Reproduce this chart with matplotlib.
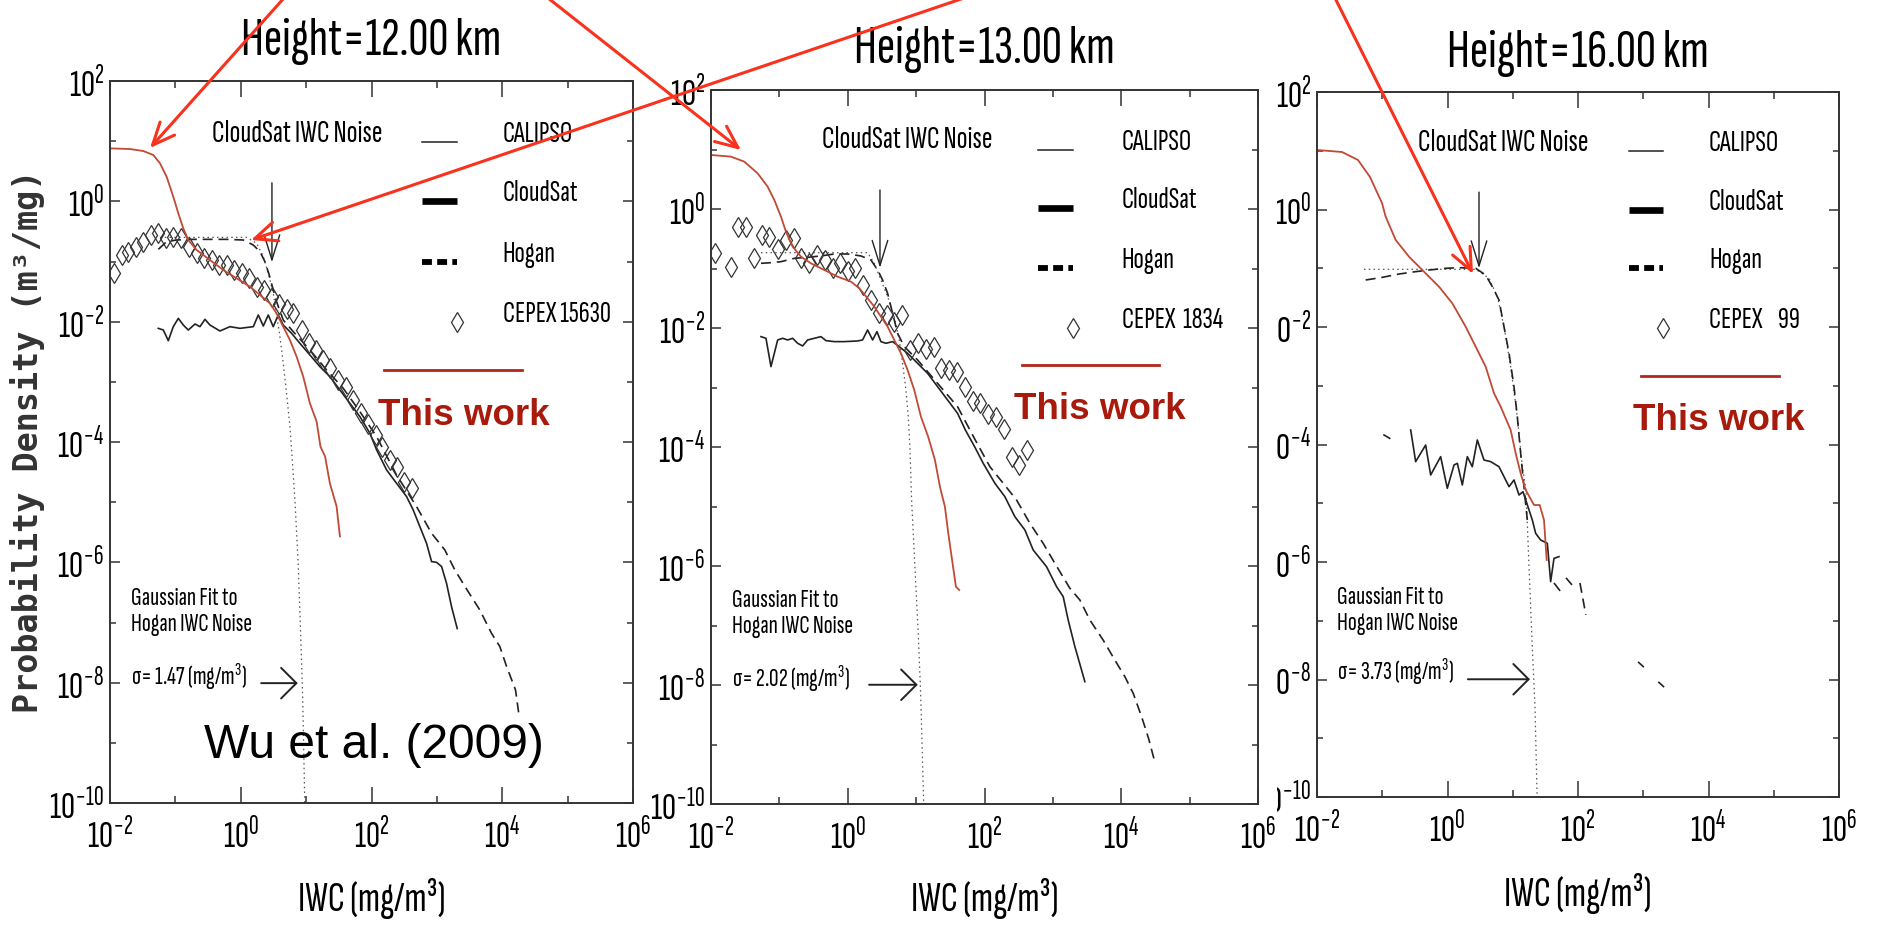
import numpy as np
import matplotlib
matplotlib.use('Agg')
import matplotlib.pyplot as plt
from matplotlib import font_manager
from matplotlib.lines import Line2D
from matplotlib.patches import FancyArrowPatch
from matplotlib.ticker import FixedLocator, FuncFormatter, NullFormatter
from matplotlib.transforms import Bbox, TransformedBbox

# values, stored as log10 exponents

# ---- 12 km ----
h12_red_lx = [-2.0, -1.7, -1.49, -1.337, -1.235, -1.134, -1.032, -0.955, -0.879, -0.802, -0.675, -0.471, -0.267, -0.063,
              0.141, 0.294, 0.446, 0.548, 0.650, 0.752, 0.854, 0.956, 1.058, 1.16, 1.22, 1.29, 1.364, 1.466, 1.517]
h12_red_ly = [0.88, 0.87, 0.836, 0.77, 0.631, 0.41, 0.077, -0.20, -0.449, -0.643, -0.809, -0.975, -1.141, -1.28,
              -1.419, -1.557, -1.696, -1.862, -2.083, -2.305, -2.58, -2.914, -3.357, -3.66, -4.08, -4.24, -4.69, -5.07, -5.57]
h12_cal_lx = [-1.261, -1.184, -1.108, -1.032, -0.955, -0.879, -0.802, -0.700, -0.624, -0.547, -0.471, -0.318, -0.165, -0.012,
              0.192, 0.268, 0.345, 0.421, 0.497, 0.574, 0.650, 0.778, 0.905, 1.058, 1.211, 1.364, 1.517, 1.670, 1.823, 1.976,
              2.078, 2.231, 2.384, 2.537, 2.638, 2.740, 2.842, 2.919, 2.995, 3.072, 3.148, 3.225, 3.311]
h12_cal_ly = [-2.111, -2.139, -2.316, -2.083, -1.945, -2.056, -2.139, -2.039, -2.083, -1.961, -2.056, -2.155, -2.083, -2.111,
              -2.083, -1.889, -2.072, -1.889, -2.083, -1.889, -2.056, -2.194, -2.36, -2.554, -2.748, -2.914, -3.136, -3.357,
              -3.579, -3.856, -4.13, -4.465, -4.687, -4.908, -5.13, -5.407, -5.684, -5.988, -6.0, -6.07, -6.35, -6.74, -7.10]
h12_hog_lx = [-1.261, -1.134, -0.981, -0.726, -0.471, -0.216, 0.039, 0.192, 0.294, 0.370, 0.436, 0.497, 0.548, 0.650, 0.803,
              1.058, 1.313, 1.568, 1.823, 2.078, 2.384, 2.69, 2.919, 3.122, 3.275, 3.479, 3.657, 3.836, 3.963, 4.066, 4.203, 4.26]
h12_hog_ly = [-0.798, -0.67, -0.643, -0.632, -0.632, -0.632, -0.643, -0.726, -0.837, -1.003, -1.225, -1.474, -1.668, -1.973,
              -2.166, -2.471, -2.803, -3.108, -3.496, -3.911, -4.55, -5.075, -5.517, -5.795, -6.127, -6.487, -6.792, -7.18,
              -7.40, -7.73, -8.12, -8.57]
h12_gau_lx = [-1.235, 0.090, 0.243, 0.345, 0.421, 0.497, 0.548, 0.599, 0.650, 0.701, 0.752, 0.778, 0.829, 0.880, 0.916, 0.946, 0.985]
h12_gau_ly = [-0.599, -0.599, -0.698, -0.92, -1.197, -1.529, -1.889, -2.25, -2.693, -3.19, -3.745, -4.133, -4.964, -6.07,
              -7.18, -8.18, -10.3]
h12_cep_lx = [-1.939, -1.822, -1.720, -1.602, -1.490, -1.373, -1.261, -1.144, -1.032, -0.914, -0.787, -0.675, -0.563, -0.445,
              -0.328, -0.216, -0.099, 0.013, 0.130, 0.243, 0.360, 0.472, 0.589, 0.701, 0.803, 0.931, 1.048, 1.150, 1.262,
              1.364, 1.491, 1.609, 1.721, 1.833, 1.950, 2.062, 2.154, 2.281, 2.384, 2.495, 2.623]
h12_cep_ly = [-1.197, -0.892, -0.837, -0.754, -0.67, -0.56, -0.532, -0.615, -0.599, -0.615, -0.754, -0.864, -0.948, -0.975,
              -1.058, -1.058, -1.141, -1.197, -1.28, -1.419, -1.474, -1.585, -1.707, -1.795, -1.862, -2.139, -2.349, -2.471,
              -2.637, -2.776, -2.97, -3.091, -3.302, -3.524, -3.701, -3.884, -4.077, -4.299, -4.41, -4.659, -4.77]

# ---- 13 km ----
h13_red_lx = [-2.0, -1.708, -1.513, -1.318, -1.172, -1.074, -0.977, -0.904, -0.806, -0.684, -0.538, -0.343, -0.148, 0.047,
              0.169, 0.290, 0.388, 0.485, 0.583, 0.680, 0.778, 0.875, 0.973, 1.07, 1.177, 1.275, 1.348, 1.421, 1.47, 1.519,
              1.582, 1.63]
h13_red_ly = [0.908, 0.880, 0.796, 0.600, 0.376, 0.152, -0.128, -0.381, -0.633, -0.801, -0.913, -1.025, -1.137, -1.221,
              -1.333, -1.501, -1.641, -1.809, -1.977, -2.201, -2.425, -2.705, -3.042, -3.49, -3.83, -4.218, -4.667, -5.003,
              -5.45, -5.843, -6.347, -6.403]
h13_cal_lx = [-1.269, -1.196, -1.123, -1.025, -0.952, -0.879, -0.806, -0.733, -0.660, -0.587, -0.489, -0.392, -0.319, -0.197,
              -0.051, 0.144, 0.217, 0.290, 0.364, 0.427, 0.485, 0.558, 0.656, 0.753, 0.875, 1.021, 1.168, 1.314, 1.460, 1.606,
              1.72, 1.855, 1.981, 2.152, 2.298, 2.444, 2.591, 2.712, 2.907, 3.054, 3.151, 3.224, 3.322, 3.468]
h13_cal_ly = [-2.145, -2.173, -2.649, -2.201, -2.173, -2.201, -2.173, -2.257, -2.302, -2.201, -2.173, -2.145, -2.212, -2.229,
              -2.229, -2.218, -2.201, -2.033, -2.201, -2.061, -2.229, -2.257, -2.229, -2.313, -2.425, -2.593, -2.762, -2.986,
              -3.21, -3.434, -3.714, -3.994, -4.274, -4.61, -4.835, -5.171, -5.395, -5.731, -6.011, -6.347, -6.515, -6.908,
              -7.356, -7.944]
h13_hog_lx = [-1.269, -1.123, -0.977, -0.782, -0.587, -0.392, -0.197, -0.002, 0.193, 0.339, 0.437, 0.510, 0.583, 0.656, 0.729,
              0.827, 1.021, 1.314, 1.606, 1.850, 2.079, 2.274, 2.469, 2.664, 2.858, 3.029, 3.249, 3.395, 3.541, 3.735, 3.906,
              4.053, 4.175, 4.30, 4.40, 4.49]
h13_hog_ly = [-0.913, -0.902, -0.885, -0.829, -0.812, -0.789, -0.756, -0.756, -0.789, -0.857, -1.025, -1.193, -1.417, -1.753,
              -2.089, -2.313, -2.537, -2.93, -3.322, -3.85, -4.331, -4.61, -4.891, -5.283, -5.619, -5.955, -6.375, -6.571,
              -6.908, -7.244, -7.580, -7.86, -8.14, -8.54, -8.9, -9.29]
h13_gau_lx = [-1.269, 0.290, 0.388, 0.485, 0.583, 0.680, 0.753, 0.802, 0.851, 0.885, 0.909, 0.934, 0.982, 1.031, 1.066, 1.118]
h13_gau_ly = [-0.734, -0.734, -0.913, -1.193, -1.473, -1.809, -2.201, -2.593, -3.042, -3.49, -3.994, -4.891, -6.011, -7.131,
              -8.14, -10.3]
h13_cep_lx = [-1.942, -1.708, -1.600, -1.488, -1.366, -1.259, -1.147, -1.025, -0.904, -0.791, -0.684, -0.562, -0.450, -0.333,
              -0.221, -0.109, -0.002, 0.105, 0.222, 0.339, 0.451, 0.568, 0.680, 0.797, 0.909, 1.021, 1.143, 1.255, 1.363,
              1.484, 1.597, 1.713, 1.826, 1.938, 2.055, 2.167, 2.279, 2.396, 2.508, 2.625]
h13_cep_ly = [-0.733, -0.969, -0.297, -0.297, -0.829, -0.437, -0.476, -0.678, -0.521, -0.493, -0.829, -0.913, -0.773, -0.857,
              -0.997, -0.913, -1.036, -0.997, -1.277, -1.529, -1.753, -1.781, -1.893, -1.781, -2.369, -2.257, -2.358, -2.313,
              -2.677, -2.705, -2.733, -2.986, -3.221, -3.266, -3.445, -3.501, -3.703, -4.163, -4.303, -4.05]

# ---- 16 km ----
h16_red_lx = [-2.0, -1.617, -1.372, -1.188, -1.004, -0.948, -0.794, -0.59, -0.386, -0.13, 0.074, 0.278, 0.432, 0.585, 0.713,
              0.815, 0.968, 1.045, 1.121, 1.198, 1.326, 1.413, 1.479, 1.52]
h16_red_ly = [1.013, 0.979, 0.843, 0.553, 0.111, -0.122, -0.519, -0.803, -1.03, -1.314, -1.597, -1.994, -2.335, -2.675,
              -3.129, -3.356, -3.753, -4.15, -4.49, -4.774, -5.03, -5.03, -5.285, -5.966]
h16_cal_lx = [-0.973, -0.886, np.nan, -0.564, -0.488, -0.335, -0.258, -0.105, -0.003, 0.1, 0.151, 0.227, 0.304, 0.38, 0.457,
              0.559, 0.662, 0.789, 0.943, 1.019, 1.096, 1.157, 1.3, 1.351, 1.428, 1.53, 1.581, 1.632, 1.709]
h16_cal_ly = [-3.838, -3.895, np.nan, -3.753, -4.292, -4.009, -4.519, -4.207, -4.746, -4.349, -4.32, -4.689, -4.207, -4.378,
              -3.923, -4.264, -4.292, -4.378, -4.718, -4.604, -4.86, -4.803, -5.285, -5.512, -5.626, -5.682, -6.335, -5.938,
              -5.909]
h16_hog_lx = [-1.254, -0.999, -0.743, -0.488, -0.284, -0.028, 0.176, 0.432, 0.585, 0.687, 0.789, 0.866, 0.943, 1.019, 1.07,
              1.121, 1.172, 1.223, np.nan, 1.632, 1.739, np.nan, 1.816, 1.908, np.nan, 2.03, 2.12, np.nan, 2.92, 3.01, np.nan,
              3.23, 3.32]
h16_hog_ly = [-1.2, -1.155, -1.098, -1.058, -1.03, -1.001, -0.99, -1.001, -1.115, -1.314, -1.54, -1.994, -2.448, -3.016,
              -3.527, -4.15, -4.718, -5.285, np.nan, -6.357, -6.51, np.nan, -6.27, -6.39, np.nan, -6.357, -6.9, np.nan, -7.70,
              -7.79, np.nan, -8.04, -8.13]
h16_gau_lx = [-1.28, 0.432, 0.636, 0.764, 0.866, 0.968, 1.07, 1.147, 1.203, 1.249, 1.295, 1.341, 1.372, 1.38]
h16_gau_ly = [-1.018, -1.018, -1.171, -1.484, -1.994, -2.675, -3.527, -4.378, -4.774, -6.08, -7.33, -8.47, -9.93, -10.3]
h16_cep_lx = []
h16_cep_ly = []

heights = ['12.00', '13.00', '16.00']
sigmas = ['1.47', '2.02', '3.73']
cepex_labels = ['CEPEX 15630', 'CEPEX  1834', 'CEPEX    99']
legend_names = ['CALIPSO', 'CloudSat', 'Hogan']
noise_x = [3.0, 2.96, 3.04]

# fonts: the figure text is a squeezed Helvetica, so use an extra-condensed grotesque
names = {f.name for f in font_manager.fontManager.ttflist}
NARROW = next((n for n in ['Sofia Sans Extra Condensed', 'Roboto Condensed', 'Liberation Sans'] if n in names),
              'DejaVu Sans')
plt.rcParams['font.family'] = [NARROW, 'DejaVu Sans']
plt.rcParams['mathtext.fontset'] = 'custom'
plt.rcParams['mathtext.rm'] = NARROW
plt.rcParams['mathtext.it'] = NARROW

RED_CURVE = '#c04a36'
RED_TEXT = '#a81a0c'
RED_ARROW = '#f8321c'
INK = '#222222'

W, H = 1877, 925
fig = plt.figure(figsize=(W / 100, H / 100), dpi=100)
fig.patch.set_facecolor('white')

# layout per panel in pixels and axes fractions
panels = [
    dict(box=(110, 81, 633, 803), title_y=1.036, xlab_y=-0.150,
         noise=(0.358, 0.916, 0.859, 0.749), samp=(0.597, 0.663), lab_x=0.751,
         leg_y=(0.916, 0.834, 0.749, 0.666), red_line=(0.524, 0.788, 0.600), work=(0.512, 0.5235),
         gauss=(0.040, 0.274, 0.238, 0.163), sig_arrow=(0.289, 0.359, 0.166)),
    dict(box=(711, 90, 1258, 804), title_y=1.038, xlab_y=-0.150,
         noise=(0.358, 0.919, 0.860, 0.751), samp=(0.598, 0.662), lab_x=0.751,
         leg_y=(0.916, 0.835, 0.751, 0.667), red_line=(0.569, 0.819, 0.615), work=(0.554, 0.539),
         gauss=(0.038, 0.276, 0.239, 0.164), sig_arrow=(0.289, 0.378, 0.167)),
    dict(box=(1317, 92, 1839, 797), title_y=1.035, xlab_y=-0.155,
         noise=(0.356, 0.916, 0.858, 0.750), samp=(0.598, 0.663), lab_x=0.751,
         leg_y=(0.916, 0.833, 0.750, 0.665), red_line=(0.621, 0.885, 0.597), work=(0.605, 0.521),
         gauss=(0.038, 0.274, 0.237, 0.166), sig_arrow=(0.289, 0.408, 0.167)),
]
series = [
    (h12_red_lx, h12_red_ly, h12_cal_lx, h12_cal_ly, h12_hog_lx, h12_hog_ly, h12_gau_lx, h12_gau_ly, h12_cep_lx, h12_cep_ly),
    (h13_red_lx, h13_red_ly, h13_cal_lx, h13_cal_ly, h13_hog_lx, h13_hog_ly, h13_gau_lx, h13_gau_ly, h13_cep_lx, h13_cep_ly),
    (h16_red_lx, h16_red_ly, h16_cal_lx, h16_cal_ly, h16_hog_lx, h16_hog_ly, h16_gau_lx, h16_gau_ly, h16_cep_lx, h16_cep_ly),
]

pow10 = FuncFormatter(lambda v, p: r'$\mathregular{10^{%d}}$' % int(round(np.log10(v))))
axes = []
for i, (cfg, s) in enumerate(zip(panels, series)):
    x0, y0, x1, y1 = cfg['box']
    ax = fig.add_axes([x0 / W, 1 - y1 / H, (x1 - x0) / W, (y1 - y0) / H])
    axes.append(ax)
    red_lx, red_ly, cal_lx, cal_ly, hog_lx, hog_ly, gau_lx, gau_ly, cep_lx, cep_ly = [np.asarray(a, float) for a in s]

    ax.plot(10 ** gau_lx, 10 ** gau_ly, color='#555555', lw=0.9, ls=(0, (1.2, 2.6)))
    ax.plot(10 ** hog_lx, 10 ** hog_ly, color=INK, lw=1.2, ls=(0, (6, 3.5)))
    ax.plot(10 ** cal_lx, 10 ** cal_ly, color=INK, lw=1.2)
    if len(cep_lx):
        ax.plot(10 ** cep_lx, 10 ** cep_ly, ls='none', marker='d', ms=10.5, mfc='none', mec='#333333', mew=0.9)
    ax.plot(10 ** red_lx, 10 ** red_ly, color=RED_CURVE, lw=1.3)

    ax.set_xscale('log')
    ax.set_yscale('log')
    ax.set_xlim(1e-2, 1e6)
    ax.set_ylim(1e-10, 1e2)
    ax.xaxis.set_major_locator(FixedLocator([1e-2, 1e0, 1e2, 1e4, 1e6]))
    ax.xaxis.set_minor_locator(FixedLocator([1e-1, 1e1, 1e3, 1e5]))
    ax.yaxis.set_major_locator(FixedLocator([10.0 ** k for k in range(-10, 3, 2)]))
    ax.yaxis.set_minor_locator(FixedLocator([10.0 ** k for k in range(-9, 2, 2)]))
    ax.xaxis.set_major_formatter(pow10)
    ax.yaxis.set_major_formatter(pow10)
    ax.xaxis.set_minor_formatter(NullFormatter())
    ax.yaxis.set_minor_formatter(NullFormatter())
    ax.tick_params(which='both', direction='in', top=True, right=True, color='#333333', width=1.1, labelsize=28)
    ax.tick_params(axis='x', which='major', length=11.5, pad=10)
    ax.tick_params(axis='x', which='minor', length=5)
    ax.tick_params(axis='y', which='major', length=7.5, pad=4)
    ax.tick_params(axis='y', which='minor', length=4.5)
    for sp in ax.spines.values():
        sp.set_color('#333333')
        sp.set_linewidth(1.4)

    ax.text(0.5, cfg['title_y'], 'Height=%s km' % heights[i], transform=ax.transAxes, ha='center', va='baseline',
            fontsize=40)
    ax.text(0.5, cfg['xlab_y'], 'IWC (mg/m³)', transform=ax.transAxes, ha='center', va='baseline', fontsize=31)

    # noise marker
    nx, ny, ntop, ntip = cfg['noise']
    ax.text(nx, ny, 'CloudSat IWC Noise', transform=ax.transAxes, ha='center', va='baseline', fontsize=23)
    xt = ax.get_xaxis_transform()
    ax.annotate('', xy=(noise_x[i], ntip), xycoords=xt, xytext=(noise_x[i], ntop), textcoords=xt,
                arrowprops=dict(arrowstyle='->,head_length=0.9,head_width=0.28', color=INK, lw=1.0,
                                shrinkA=0, shrinkB=0, mutation_scale=20))

    # hand-drawn legend
    sx0, sx1 = cfg['samp']
    ly = cfg['leg_y']
    ax.add_line(Line2D([sx0, sx1], [ly[0], ly[0]], transform=ax.transAxes, color=INK, lw=1.1, clip_on=False))
    ax.add_line(Line2D([sx0, sx1], [ly[1], ly[1]], transform=ax.transAxes, color='black', lw=4.8, clip_on=False,
                       solid_capstyle='butt'))
    ax.add_line(Line2D([sx0, sx1], [ly[2], ly[2]], transform=ax.transAxes, color='black', lw=4.2, clip_on=False,
                       dashes=(1.7, 0.9, 1.7, 0.9, 0.8, 0.9), dash_capstyle='butt'))
    ax.plot([sx1], [ly[3]], transform=ax.transAxes, ls='none', marker='d', ms=10.5, mfc='none', mec='#333333', mew=0.9,
            clip_on=False)
    for name, yy in zip(legend_names + [cepex_labels[i]], ly):
        ax.text(cfg['lab_x'], yy, name, transform=ax.transAxes, ha='left', va='baseline', fontsize=22)

    rx0, rx1, ry = cfg['red_line']
    ax.add_line(Line2D([rx0, rx1], [ry, ry], transform=ax.transAxes, color='#b3261a', lw=2.0, clip_on=False))
    ax.text(cfg['work'][0], cfg['work'][1], 'This work', transform=ax.transAxes, ha='left', va='baseline',
            fontsize=26.5, fontweight='bold', color=RED_TEXT, family='Liberation Sans')

    gx, gy1, gy2, gy3 = cfg['gauss']
    ax.text(gx, gy1, 'Gaussian Fit to', transform=ax.transAxes, ha='left', va='baseline', fontsize=19)
    ax.text(gx, gy2, 'Hogan IWC Noise', transform=ax.transAxes, ha='left', va='baseline', fontsize=19)
    ax.text(gx, gy3, r'σ= %s (mg/m$\mathregular{^3}$)' % sigmas[i], transform=ax.transAxes, ha='left',
            va='baseline', fontsize=19)
    a0, a1, ay = cfg['sig_arrow']
    ax.annotate('', xy=(a1, ay), xycoords='axes fraction', xytext=(a0, ay), textcoords='axes fraction',
                arrowprops=dict(arrowstyle='->,head_length=0.55,head_width=0.55', color=INK, lw=1.4,
                                shrinkA=0, shrinkB=0, mutation_scale=20))

axes[0].text(0.180, 0.062, 'Wu et al. (2009)', transform=axes[0].transAxes, ha='left', va='baseline',
             fontsize=34.5, family='Liberation Sans', color='black')

# third panel's tick labels are cut off on the left in the source slide
clip = TransformedBbox(Bbox([[1277 / W, 0.0], [1.0, 1.0]]), fig.transFigure)
for lbl in axes[2].get_yticklabels():
    lbl.set_clip_box(clip)
    lbl.set_clip_on(True)

fig.text(28 / W, 1 - 441 / H, 'Probability Density (m³/mg)', rotation=90, ha='center', va='center',
         fontsize=24, family='DejaVu Sans Mono', fontweight='bold', color='#333333')

# red pointer arrows of the slide
for (xa, ya), (xb, yb) in [((284, -2), (150, 148)), ((964, -2), (251, 240)),
                           ((548, -2), (741, 150)), ((1335, -2), (1473, 274))]:
    fig.add_artist(FancyArrowPatch((xa / W, 1 - ya / H), (xb / W, 1 - yb / H), transform=fig.transFigure,
                                   arrowstyle='->,head_length=0.8,head_width=0.35', mutation_scale=20,
                                   color=RED_ARROW, lw=2.2, shrinkA=0, shrinkB=0, zorder=10))

fig.savefig('out.png', dpi=100)
